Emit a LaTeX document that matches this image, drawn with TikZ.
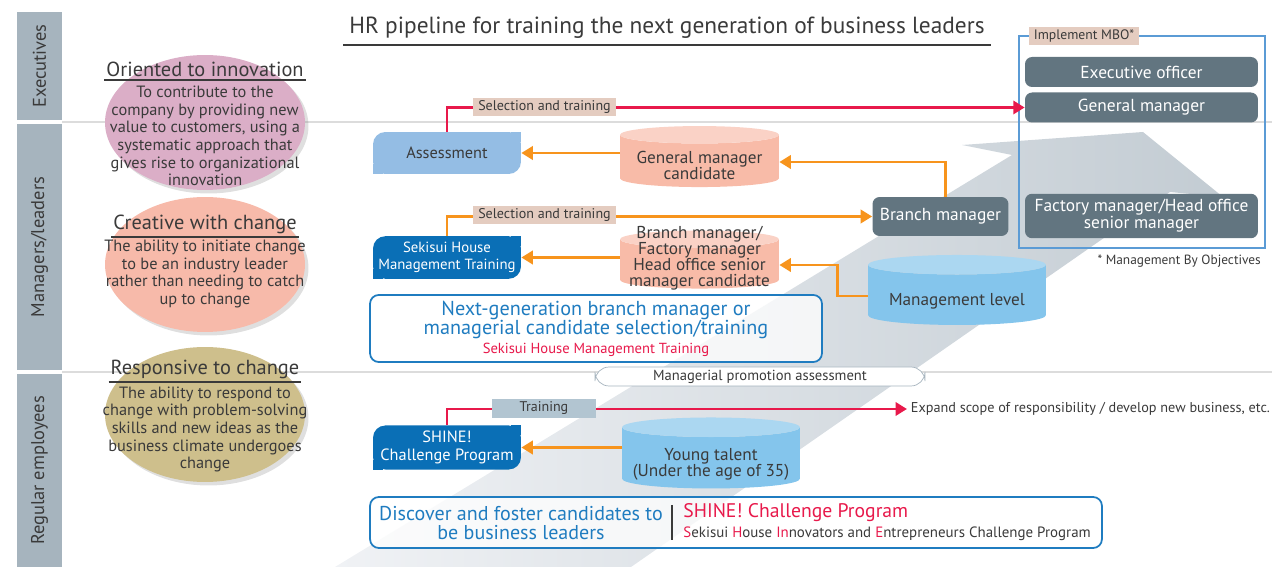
\documentclass[tikz,border=0pt]{standalone}
\usepackage{fontspec}
\setmainfont{PT Sans}
\usetikzlibrary{arrows.meta,shapes.geometric,shadows}

\definecolor{lanegray}{HTML}{A6B4BE}
\definecolor{laneline}{HTML}{DCDCDC}
\definecolor{txtgray}{HTML}{3A3A3A}
\definecolor{pinkell}{HTML}{DBAEC7}
\definecolor{salmonell}{HTML}{F7BAAA}
\definecolor{tanell}{HTML}{CEBF8C}
\definecolor{slate}{HTML}{627580}
\definecolor{deepblue}{HTML}{0A6FB6}
\definecolor{softblue}{HTML}{94BDE4}
\definecolor{hrorange}{HTML}{F7941D}
\definecolor{hrred}{HTML}{E8194B}
\definecolor{tagtan}{HTML}{E4CCC0}
\definecolor{tagblue}{HTML}{B2C5D1}
\definecolor{mboblue}{HTML}{5B9BD5}
\definecolor{cylsalmon}{HTML}{F8BBA8}
\definecolor{cylsalmontop}{HTML}{FAD2C6}
\definecolor{cylblue}{HTML}{84C5EC}
\definecolor{cylbluetop}{HTML}{ABD7F1}
\definecolor{boxblue}{HTML}{1F7CC0}
\definecolor{bandlight}{HTML}{F0F2F5}
\definecolor{banddark}{HTML}{C3CCD3}

\begin{document}
\begin{tikzpicture}[
        x=0.02cm, y=-0.02cm,
        >={Triangle[length=6.5pt,width=7.5pt]},
        lanebar/.style={rectangle, fill=lanegray, rotate=90, minimum height=0.9cm, inner sep=0pt, text=txtgray, font=\fontsize{10.5}{12}\selectfont},
        trait/.style={ellipse, minimum width=4cm, minimum height=2.7cm, drop shadow={opacity=0.25, shadow xshift=2pt, shadow yshift=-2pt}},
        head/.style={inner xsep=1pt, inner ysep=1.5pt, text=txtgray, font=\fontsize{11.6}{12}\selectfont},
        blurb/.style={align=center, inner sep=0pt, text=txtgray, font=\fontsize{9.3}{10}\selectfont},
        post/.style={rectangle, rounded corners=4pt, fill=slate, text=white, minimum height=0.6cm, align=center, font=\fontsize{9.9}{9.5}\selectfont},
        prog/.style={rectangle, rounded corners=7pt, minimum width=2.96cm, minimum height=0.82cm, inner xsep=2pt, align=center, font=\fontsize{9.3}{9.8}\selectfont},
        pool/.style={cylinder, shape border rotate=90, aspect=0.11, inner sep=1pt, cylinder uses custom fill},
        poolnote/.style={align=center, text=txtgray, font=\fontsize{9.8}{9.4}\selectfont},
        tag/.style={rectangle, inner xsep=3pt, inner ysep=1.5pt, text=txtgray, font=\fontsize{8}{9}\selectfont},
        orline/.style={draw=hrorange, line width=1.7pt},
        redline/.style={draw=hrred, line width=1.7pt},
        plan/.style={rectangle, draw=boxblue, rounded corners=5pt, line width=1pt, fill=white, fill opacity=0.75, text opacity=1, align=center, text=boxblue}
    ]
    \useasboundingbox (0,0) rectangle (1272,567);

    % Freccia di fondo
    \shade[left color=bandlight, right color=banddark]
        (335,567) -- (1012,155) -- (962,145) -- (1143,132) -- (1223,197) -- (1170,192) -- (631,567) -- cycle;

    % Livelli
    \draw[laneline, line width=1pt] (62,122) -- (1272,122);
    \draw[laneline, line width=1pt] (62,372) -- (1272,372);
    \node[lanebar, minimum width=2.16cm] (exec)  at (39.5,66)    {Executives};
    \node[lanebar, minimum width=4.92cm] (mgr)   at (39.5,247)   {Managers/leaders};
    \node[lanebar, minimum width=3.86cm] (staff) at (39.5,470.5) {Regular employees};

    % Titolo
    \node[text=txtgray, font=\fontsize{13.3}{14}\selectfont, minimum width=12.82cm, minimum height=0.64cm] (title) at (667,28)
        {HR pipeline for training the next generation of business leaders};
    \draw[txtgray, line width=0.7pt] (title.south west) -- (title.south east);

    % Ellissi
    \node[trait, fill=pinkell]    (inno)  at (205,122.5) {};
    \node[trait, fill=salmonell]  (crea)  at (205,264.5) {};
    \node[trait, fill=tanell]     (resp)  at (205,414.5) {};

    \node[head, anchor=south] (innohead) at (205,80) {Oriented to innovation};
    \node[head, anchor=south] (creahead) at (205,237) {Creative with change};
    \node[head, anchor=south] (resphead) at (205,382) {Responsive to change};
    \draw[txtgray, line width=0.7pt] (innohead.south west) -- (innohead.south east);
    \draw[txtgray, line width=0.7pt] (creahead.south west) -- (creahead.south east);
    \draw[txtgray, line width=0.7pt] (resphead.south west) -- (resphead.south east);

    \node[blurb] (innotext) at (205,136) {To contribute to the\\company by providing new\\value to customers, using a\\systematic approach that\\gives rise to organizational\\innovation};
    \node[blurb] (creatext) at (205,274) {The ability to initiate change\\to be an industry leader\\rather than needing to catch\\up to change};
    \node[blurb] (resptext) at (205,429.5) {The ability to respond to\\change with problem-solving\\skills and new ideas as the\\business climate undergoes\\change};

    % Riquadro MBO
    \node[rectangle, draw=mboblue, line width=1.5pt, minimum width=4.92cm, minimum height=4.24cm] (mbo) at (1142,142) {};
    \node[post, minimum width=4.66cm] (execoff) at (1141.5,72)    {Executive officer};
    \node[post, minimum width=4.66cm] (genmgr)  at (1141.5,107.5) {General manager};
    \node[post, minimum width=4.66cm, minimum height=0.76cm] (facmgr) at (1141.5,216) {Factory manager/Head office\\senior manager};
    \node[post, minimum width=2.72cm, minimum height=0.78cm] (branch) at (940.5,216.5) {Branch manager};
    \node[tag, fill=tagtan, font=\fontsize{7.8}{9}\selectfont] (mbolab) at (1084,36) {Implement MBO*};
    \node[anchor=east, text=txtgray, font=\fontsize{7.6}{8}\selectfont] (mbonote) at (1267,261) {* Management By Objectives};

    % Programmi
    \node[prog, fill=softblue, text=txtgray, minimum height=0.84cm] (asmt) at (447,153) {Assessment};
    \fill[softblue] (asmt.north east) rectangle ++(-10,10);
    \fill[softblue] (asmt.south west) rectangle ++(10,-10);
    \node[prog, fill=deepblue, text=white, font=\fontsize{8.4}{9.8}\selectfont] (shmt) at (447,257.5) {Sekisui House\\Management Training};
    \fill[deepblue] (shmt.north east) rectangle ++(-10,10);
    \fill[deepblue] (shmt.south west) rectangle ++(10,-10);
    \node[prog, fill=deepblue, text=white] (shine) at (447,447.5) {SHINE!\\Challenge Program};
    \fill[deepblue] (shine.north east) rectangle ++(-10,10);
    \fill[deepblue] (shine.south west) rectangle ++(10,-10);

    % Bacini
    \node[pool, cylinder body fill=cylsalmon, cylinder end fill=cylsalmontop, text width=3.1cm, minimum width=3.18cm, minimum height=1.22cm,
          label={[poolnote, yshift=-2pt]center:General manager\\candidate}] (gmc) at (699.5,162) {};
    \node[pool, cylinder body fill=cylsalmon, cylinder end fill=cylsalmontop, text width=3.1cm, minimum width=3.18cm, minimum height=1.16cm,
          label={[poolnote, yshift=4pt, font=\fontsize{9.8}{9.2}\selectfont]center:Branch manager/\\Factory manager\\Head office senior\\manager candidate}] (bmc) at (699.5,265) {};
    \node[pool, cylinder body fill=cylblue, cylinder end fill=cylbluetop, text width=3.48cm, minimum width=3.56cm, minimum height=1.4cm,
          label={[poolnote, yshift=-3pt]center:Management level}] (ml) at (957,296) {};
    \node[pool, cylinder body fill=cylblue, cylinder end fill=cylbluetop, text width=3.48cm, minimum width=3.56cm, minimum height=1.42cm,
          label={[poolnote, yshift=-3pt]center:Young talent\\(Under the age of 35)}] (yt) at (711,459) {};

    % Collegamenti
    \node[anchor=west, inner sep=2pt, text=txtgray, font=\fontsize{8.1}{9}\selectfont] (expand) at (907,409) {Expand scope of responsibility / develop new business, etc.};
    \draw[redline, ->] (asmt.north) |- (genmgr.west);
    \draw[orline, ->] (asmt.east -| gmc.west) -- (asmt.east);
    \draw[orline, ->] ([xshift=3pt]branch.north) |- (gmc.east);
    \draw[orline, ->] (shmt.north) |- (branch.west);
    \draw[orline, ->] (shmt.east -| bmc.west) -- (shmt.east);
    \draw[orline, ->] (ml.west) -- ++(-30,0) |- (bmc.east);
    \draw[redline, ->] (shine.north) |- (expand.west);
    \draw[orline, ->] (shine.east -| yt.west) -- (shine.east);

    \node[tag, fill=tagtan]  (sel1)  at (544.5,107) {Selection and training};
    \node[tag, fill=tagtan]  (sel2)  at (544.5,215) {Selection and training};
    \node[tag, fill=tagblue, minimum width=2.08cm] (train) at (544,408.5) {Training};

    % Riquadri blu
    \node[rectangle, draw=lanegray, fill=white, rounded corners=8pt, minimum width=6.6cm, minimum height=0.38cm, inner sep=0pt, text=txtgray, font=\fontsize{8.3}{9}\selectfont] (promo) at (760,376.5) {Managerial promotion assessment};
    \node[plan, minimum width=9.04cm, minimum height=1.18cm, font=\fontsize{11.5}{10.8}\selectfont] (ngb) at (596,328.5)
        {Next-generation branch manager or\\managerial candidate selection/training\\{\color{hrred}\fontsize{8.3}{9}\selectfont Sekisui House Management Training}};
    \node[plan, minimum width=14.64cm, minimum height=1.02cm] (dfc) at (736,522.5) {};
    \node[align=center, text=boxblue, font=\fontsize{11.4}{11}\selectfont] (dfctext) at (521,523) {Discover and foster candidates to\\be business leaders};
    \draw[txtgray, line width=0.6pt] (672,505) -- (672,540);
    \node[anchor=west, inner sep=0pt, text=hrred, font=\fontsize{11.2}{12}\selectfont] (shinename) at (683,513) {SHINE! Challenge Program};
    \node[anchor=west, inner sep=0pt, text=txtgray, font=\fontsize{8.5}{9}\selectfont] (shinefull) at (683,534)
        {{\color{hrred}S}ekisui {\color{hrred}H}ouse {\color{hrred}In}novators and {\color{hrred}E}ntrepreneurs Challenge Program};

\end{tikzpicture}
\end{document}
